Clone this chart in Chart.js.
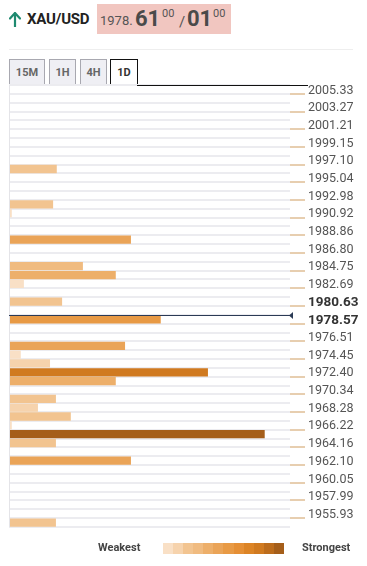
<!DOCTYPE html>
<html>
<head>
<meta charset="utf-8">
<script src="https://cdn.jsdelivr.net/npm/chart.js@4/dist/chart.umd.min.js"></script>
<style>
  body { margin: 0; background: #fff; font-family: Roboto, "Open Sans", sans-serif; width: 367px; height: 566px; position: relative; overflow: hidden; }
  .abs { position: absolute; }
  #pair { left: 27px; top: 10px; font-size: 15px; font-weight: 700; color: #222; letter-spacing: -0.2px; }
  #quote { left: 97px; top: 4px; width: 134px; height: 30px; background: #f1c6c0; color: #555; }
  #quote span { position: absolute; }
  .tab { top: 59px; height: 25px; line-height: 25px; border: 1px solid #a8a8b0; border-bottom: none; background: #efeff4; color: #666; font-size: 11px; font-weight: 700; text-align: center; box-sizing: border-box; }
  .tab.on { background: #fff; border-color: #111; color: #333; height: 27px; }
  #chartBox { left: 0; top: 70px; width: 367px; height: 472px; }
  .leg { top: 541px; font-size: 11px; font-weight: 700; color: #444; }
  #grad { left: 163px; top: 543px; width: 121px; height: 11px; display: flex; }
  #grad div { flex: 1; }
</style>
</head>
<body>
<svg class="abs" style="left:9px;top:12px" width="12" height="15" viewBox="0 0 12 15">
  <path d="M6 1 L1 6.5 M6 1 L11 6.5 M6 1 L6 14.5" stroke="#1f8a70" stroke-width="2.2" fill="none" stroke-linecap="round"/>
</svg>
<div id="pair" class="abs">XAU/USD</div>
<div id="quote" class="abs">
  <span style="left:3px;top:9px;font-size:13px">1978.</span>
  <span style="left:38px;top:2px;font-size:22px;font-weight:700;color:#4a4a4a">61</span>
  <span style="left:65px;top:3px;font-size:11px">00</span>
  <span style="left:82px;top:9px;font-size:15px">/</span>
  <span style="left:90px;top:2px;font-size:22px;font-weight:700;color:#4a4a4a">01</span>
  <span style="left:116px;top:3px;font-size:11px">00</span>
</div>
<div class="abs" style="left:9px;top:49px;width:344px;height:1px;background:#eeeeee"></div>
<div class="abs tab" style="left:9px;width:36px">15M</div>
<div class="abs tab" style="left:49px;width:27px">1H</div>
<div class="abs tab" style="left:80px;width:27px">4H</div>
<div class="abs tab on" style="left:110px;width:28px">1D</div>
<div id="chartBox" class="abs"><canvas id="chart"></canvas></div>
<div class="abs" style="left:137px;top:85px;width:171px;height:1px;background:#111"></div>
<div class="abs leg" style="left:98px">Weakest</div>
<div id="grad" class="abs"></div>
<div class="abs leg" style="left:302px">Strongest</div>
<script>
// precios del eje derecho (una etiqueta cada dos filas)
const tickLabels = ['2005.33', '2003.27', '2001.21', '1999.15', '1997.10', '1995.04', '1992.98',
  '1990.92', '1988.86', '1986.80', '1984.75', '1982.69', '1980.63', '1978.57', '1976.51',
  '1974.45', '1972.40', '1970.34', '1968.28', '1966.22', '1964.16', '1962.10', '1960.05',
  '1957.99', '1955.93']

// fuerza de confluencia por fila (de arriba hacia abajo, 50 filas)
const strength = [
  0, 0, 0, 0, 0, 0, 0, 0, 0, 17,
  0, 0, 0, 15.7, 1, 0, 0, 43.4, 0, 0,
  26.3, 38, 5.3, 0, 18.9, 0, 54, 0, 0, 41.3,
  4.2, 14.6, 70.8, 38, 0, 16.7, 10.3, 22, 1, 91,
  16.7, 0, 43.4, 0, 0, 0, 0, 0, 0, 16.7
]

const currentPrice = 1978.61

// escala de colores (de débil a fuerte)
const palette = ['#f9e0c6', '#f6d3ad', '#f2c490', '#f0bb80', '#edaf6a', '#eaa458',
  '#e89a45', '#e58f35', '#dc8426', '#d07a20', '#bc6c1c', '#a55e1a']

const grad = document.getElementById('grad')
palette.forEach(c => {
  const d = document.createElement('div')
  d.style.background = c
  grad.appendChild(d)
})

const rows = tickLabels.flatMap(t => [t, t + ' -'])

// filas en negrita: los precios que rodean al precio actual
const below = tickLabels.findIndex(t => parseFloat(t) <= currentPrice)
const boldRows = [below * 2, (below - 1) * 2]

const colorFor = v => palette[Math.min(palette.length - 1, Math.floor(v / 7.8))]

const priceLine = {
  id: 'priceLine',
  afterDatasetsDraw(chart) {
    const { ctx, chartArea, scales } = chart
    const r = below * 2
    const y = Math.round((scales.y.getPixelForValue(r) + scales.y.getPixelForValue(r - 1)) / 2) + 0.5
    ctx.save()
    ctx.strokeStyle = '#e4e4e8'
    ctx.lineWidth = 1
    ctx.beginPath()
    ctx.moveTo(chartArea.left + 0.5, chartArea.top)
    ctx.lineTo(chartArea.left + 0.5, chartArea.bottom)
    ctx.stroke()
    ctx.strokeStyle = '#2b3a55'
    ctx.beginPath()
    ctx.moveTo(chartArea.left, y)
    ctx.lineTo(chartArea.right, y)
    ctx.stroke()
    ctx.fillStyle = '#2b3a55'
    ctx.beginPath()
    ctx.moveTo(chartArea.right - 1, y)
    ctx.lineTo(chartArea.right + 3, y - 3.5)
    ctx.lineTo(chartArea.right + 3, y + 3.5)
    ctx.closePath()
    ctx.fill()
    ctx.restore()
  }
}

new Chart(document.getElementById('chart'), {
  type: 'bar',
  data: {
    labels: rows,
    datasets: [{
      data: strength,
      backgroundColor: ctx => colorFor(ctx.raw || 0),
      barPercentage: 0.94,
      categoryPercentage: 1
    }]
  },
  options: {
    indexAxis: 'y',
    responsive: true,
    maintainAspectRatio: false,
    animation: false,
    layout: { padding: { left: 9, top: 15, bottom: 15, right: 0 } },
    plugins: { legend: { display: false }, tooltip: { enabled: false } },
    scales: {
      x: { display: false, min: 0, max: 100 },
      y: {
        position: 'right',
        border: { display: false },
        grid: {
          offset: true,
          color: '#ececf0',
          lineWidth: 2,
          drawTicks: true,
          tickLength: 15,
          tickWidth: 1,
          tickColor: ctx => (ctx.index % 2 === 1 ? '#cf9d60' : 'rgba(0,0,0,0)')
        },
        ticks: {
          autoSkip: false,
          padding: 3,
          labelOffset: 1,
          callback: (v, i) => (i % 2 === 0 ? tickLabels[i / 2] : ''),
          color: ctx => (boldRows.includes(ctx.index) ? '#333' : '#555'),
          font: ctx => boldRows.includes(ctx.index)
            ? { family: 'Roboto', size: 13.5, weight: 'bold' }
            : { family: 'Roboto', size: 12.5 }
        },
        afterFit: scale => {
          scale.width = 77
          scale.paddingTop = 0
          scale.paddingBottom = 0
        }
      }
    }
  },
  plugins: [priceLine]
})
</script>
</body>
</html>
